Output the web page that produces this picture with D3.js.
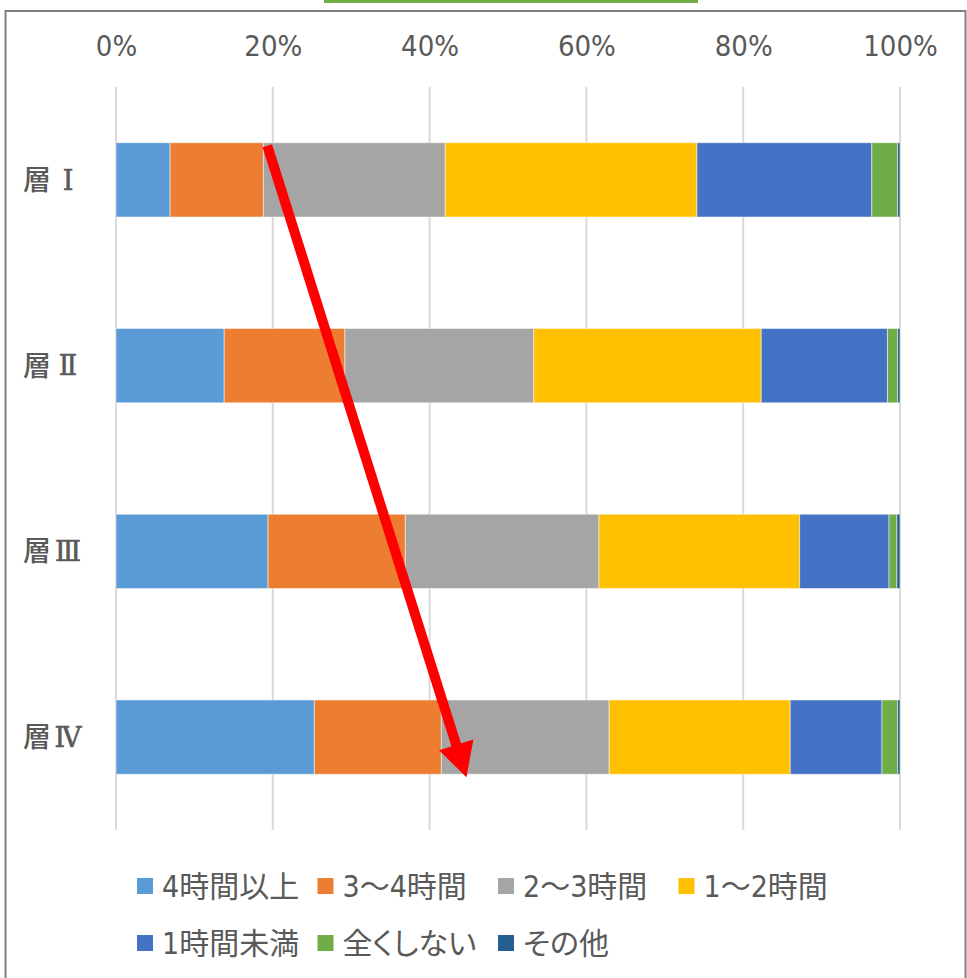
<!DOCTYPE html>
<html>
<head>
<meta charset="utf-8">
<script src="https://cdn.jsdelivr.net/npm/d3@7"></script>
<style>
body { margin: 0; background: #fff; }
svg { display: block; }
</style>
</head>
<body>
<svg></svg>
<script>
var width = 967;
var height = 978;

// categories and series
var categories = ["層Ⅰ", "層Ⅱ", "層Ⅲ", "層Ⅳ"];
var seriesNames = ["4時間以上", "3〜4時間", "2〜3時間", "1〜2時間", "1時間未満", "全くしない", "その他"];
var seriesColors = ["#5B9BD5", "#ED7D31", "#A5A5A5", "#FFC000", "#4472C4", "#70AD47", "#255E91"];

// percent per category, one array per series
var over4h   = [6.9, 13.8, 19.4, 25.3];
var h3to4    = [11.9, 15.4, 17.5, 16.2];
var h2to3    = [23.2, 24.1, 24.7, 21.4];
var h1to2    = [32.1, 29.0, 25.6, 23.1];
var under1h  = [22.3, 16.1, 11.4, 11.7];
var never    = [3.3, 1.3, 1.0, 2.0];
var other    = [0.3, 0.3, 0.4, 0.3];

var tickValues = [0, 20, 40, 60, 80, 100];

// arrow annotation, in data terms: percent along x, and which bar it touches
var arrowFrom = {pct: 19.3, cat: "層Ⅰ"};
var arrowTo = {pct: 44.7, cat: "層Ⅳ"};

var seriesValues = [over4h, h3to4, h2to3, h1to2, under1h, never, other];

var table = categories.map(function(c, i){
	var row = {cat: c};
	seriesNames.forEach(function(s, j){ row[s] = seriesValues[j][i]; });
	return row;
});

var svg = d3.select("svg").attr("width", width).attr("height", height);

var x = d3.scaleLinear().domain([0, 100]).range([116, 900]);
var y = d3.scaleBand().domain(categories).range([87, 830]).paddingInner(0.6).paddingOuter(0.3);
var color = d3.scaleOrdinal().domain(seriesNames).range(seriesColors);

var textColor = "#595959";
var numFont = "'Liberation Sans Narrow', 'DejaVu Sans Condensed', 'Noto Sans CJK JP', sans-serif";

// chart frame
svg.append("rect")
.attr("x", 5.5).attr("y", 11)
.attr("width", 960).attr("height", 990)
.attr("fill", "none")
.attr("stroke", "#7f7f7f")
.attr("stroke-width", 2);

// bit of green shape peeking in at the top
svg.append("rect")
.attr("x", 324).attr("y", 0)
.attr("width", 374).attr("height", 3)
.attr("fill", "#70AD47");

// gridlines
svg.append("g")
.selectAll("line")
.data(tickValues)
.enter()
.append("line")
.attr("x1", d => x(d)).attr("x2", d => x(d))
.attr("y1", 87).attr("y2", 830)
.attr("stroke", "#d9d9d9")
.attr("stroke-width", 2);

// top axis labels
var xAxis = d3.axisTop(x).tickValues(tickValues).tickFormat(d => d + "%").tickSize(0).tickPadding(0);
var gx = svg.append("g").attr("transform", "translate(0,56)").call(xAxis);
gx.select(".domain").remove();
gx.selectAll("text")
.attr("fill", textColor)
.style("font-family", numFont)
.style("font-size", "29px");

// category labels: kanji + serif roman numeral
var catLabel = svg.append("g")
.selectAll("g")
.data(categories)
.enter()
.append("g")
.attr("transform", d => "translate(0," + (y(d) + y.bandwidth() / 2) + ")");

catLabel.append("text")
.attr("x", 23)
.attr("dy", "0.36em")
.attr("fill", textColor)
.style("font-family", "'Noto Sans CJK JP', sans-serif")
.style("font-weight", "500")
.style("font-size", "28px")
.text(d => d.charAt(0));

catLabel.append("text")
.attr("x", 68)
.attr("dy", "0.36em")
.attr("text-anchor", "middle")
.attr("fill", textColor)
.attr("stroke", textColor)
.attr("stroke-width", 0.6)
.style("font-family", "'DejaVu Serif', 'Liberation Serif', serif")
.style("font-size", "27px")
.text(d => d.slice(1));

// stacked bars
var stack = d3.stack().keys(seriesNames);
var layers = stack(table);

svg.append("g")
.selectAll("g")
.data(layers)
.enter()
.append("g")
.attr("fill", d => color(d.key))
.selectAll("rect")
.data(d => d)
.enter()
.append("rect")
.attr("x", d => x(d[0]))
.attr("width", d => x(d[1]) - x(d[0]))
.attr("y", d => y(d.data.cat))
.attr("height", y.bandwidth())
.attr("stroke", "#fff")
.attr("stroke-opacity", 0.5)
.attr("stroke-width", 1);

// red arrow
var ax0 = x(arrowFrom.pct), ay0 = y(arrowFrom.cat) + 3;
var ax1 = x(arrowTo.pct), ay1 = y(arrowTo.cat) + y.bandwidth() + 3;
var len = Math.hypot(ax1 - ax0, ay1 - ay0);
var ux = (ax1 - ax0) / len, uy = (ay1 - ay0) / len;
var headLen = 34, headHalf = 18;
var bx = ax1 - ux * headLen, by = ay1 - uy * headLen;

svg.append("line")
.attr("x1", ax0).attr("y1", ay0)
.attr("x2", bx + ux * 2).attr("y2", by + uy * 2)
.attr("stroke", "#ff0000")
.attr("stroke-width", 10);

svg.append("path")
.attr("d", "M" + ax1 + "," + ay1 +
	"L" + (bx - uy * headHalf) + "," + (by + ux * headHalf) +
	"L" + (bx + uy * headHalf) + "," + (by - ux * headHalf) + "Z")
.attr("fill", "#ff0000");

// legend
var legendX0 = 137, legendCol = 180.5, legendRow = 57, legendY0 = 886;
var legend = svg.append("g")
.selectAll("g")
.data(seriesNames)
.enter()
.append("g")
.attr("transform", (d, i) => "translate(" + (legendX0 + (i % 4) * legendCol) + "," + (legendY0 + Math.floor(i / 4) * legendRow) + ")");

legend.append("rect")
.attr("x", 0).attr("y", -8)
.attr("width", 16).attr("height", 16)
.attr("fill", d => color(d));

legend.append("text")
.attr("x", 25)
.attr("dy", "0.36em")
.attr("fill", textColor)
.style("font-family", numFont)
.style("font-feature-settings", "'palt' 1")
.style("font-size", "30px")
.text(d => d);
</script>
</body>
</html>
